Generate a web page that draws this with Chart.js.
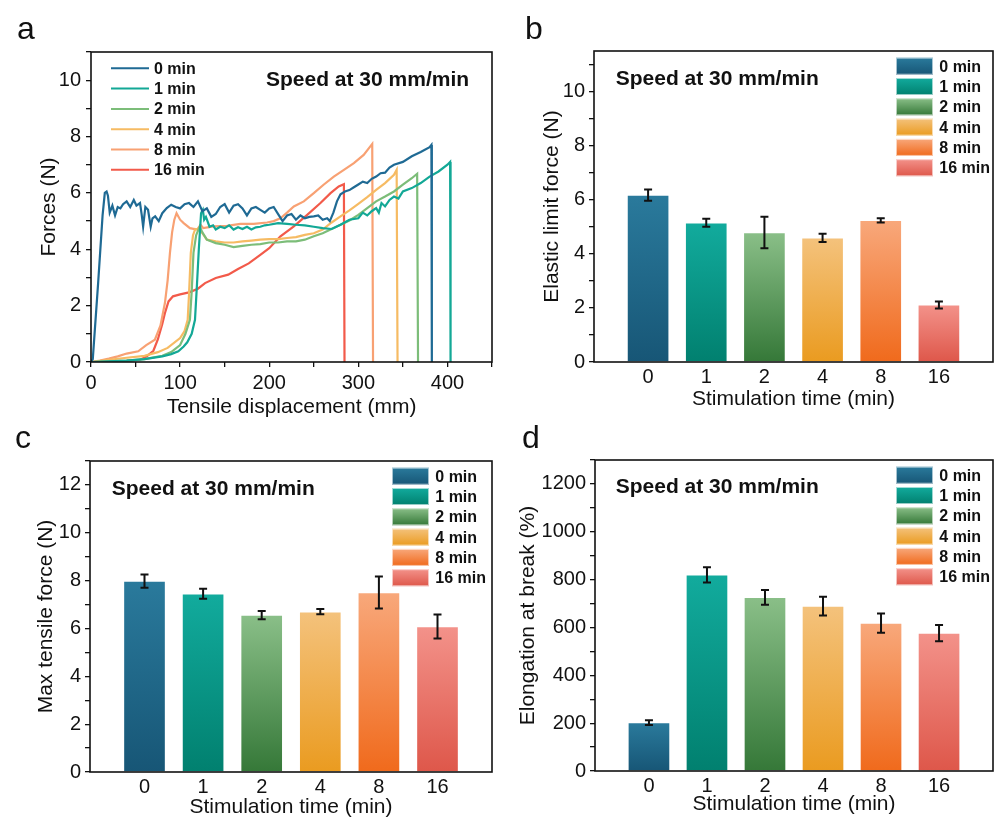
<!DOCTYPE html>
<html>
<head>
<meta charset="utf-8">
<script src="https://cdn.jsdelivr.net/npm/chart.js@4.4.0/dist/chart.umd.min.js"></script>
<style>
  body { margin: 0; background: #fff; width: 1002px; height: 818px; overflow: hidden; position: relative; }
  canvas { position: absolute; }
</style>
</head>
<body>
<canvas id="pa" width="502" height="420" style="left:0;top:0"></canvas>
<canvas id="pb" width="500" height="420" style="left:502px;top:0"></canvas>
<canvas id="pc" width="502" height="410" style="left:0;top:420px"></canvas>
<canvas id="pd" width="500" height="410" style="left:502px;top:420px"></canvas>
<script>
// stimulation times and legend names
const times = ['0', '1', '2', '4', '8', '16'];
const legendNames = ['0 min', '1 min', '2 min', '4 min', '8 min', '16 min'];

// bar values (b, c, d) and their error bars
const elasticForce = [6.17, 5.15, 4.79, 4.59, 5.24, 2.11];
const elasticErr = [0.21, 0.15, 0.58, 0.15, 0.08, 0.13];
const maxForce = [7.98, 7.45, 6.56, 6.70, 7.50, 6.08];
const maxForceErr = [0.28, 0.21, 0.17, 0.11, 0.67, 0.50];
const elongation = [202, 820, 726, 689, 618, 576];
const elongationErr = [10, 32, 31, 39, 40, 34];

// force-displacement curves (a): [displacement mm, force N]
const curve0 = [[0,0],[2,0.1],[8,2.8],[13,5.2],[15.5,6.0],[17.5,6.05],[19,5.9],[21,5.3],[24,5.55],[27,5.2],
  [30,5.5],[33,5.45],[36,5.6],[40,5.7],[44,5.5],[48,5.75],[51,5.55],[55,5.64],[57,5.2],[58.5,4.8],
  [61,5.5],[64,5.4],[67,4.8],[69,5.1],[72,5.17],[76,5.0],[80,5.28],[85,5.46],[90,5.58],[95,5.5],
  [100,5.45],[105,5.6],[110,5.64],[115,5.5],[120,5.7],[125,5.35],[130,5.45],[135,5.15],[140,5.25],[145,5.5],
  [150,5.6],[155,5.3],[160,5.55],[165,5.6],[170,5.45],[175,5.2],[180,5.45],[185,5.5],[190,5.4],[195,5.3],
  [200,5.45],[205,5.5],[210,5.25],[215,5.0],[220,5.2],[225,5.25],[230,5.05],[235,5.2],[240,5.1],[245,5.15],
  [250,5.17],[255,5.2],[260,5.05],[265,5.1],[268,5.0],[272,5.3],[276,5.7],[280,5.95],[285,6.05],[290,6.1],
  [295,6.2],[300,6.3],[305,6.4],[310,6.35],[315,6.5],[320,6.58],[325,6.7],[330,6.72],[335,6.9],[340,7.0],
  [350,7.1],[360,7.3],[370,7.45],[380,7.62],[382,7.7],[382.5,0]];
const curve1 = [[0,0],[20,0.02],[40,0.05],[60,0.1],[80,0.2],[90,0.28],[98,0.38],[104,0.55],[108,0.7],[113,1.0],
  [116.7,1.5],[119,2.8],[121,4.0],[123.5,5.28],[125.5,5.4],[127,5.05],[129,5.15],[133,4.8],[137,4.85],[140,4.7],
  [145,4.8],[150,4.75],[155,4.85],[160,4.7],[165,4.78],[170,4.72],[175,4.8],[180,4.7],[185,4.78],[190,4.8],
  [195,4.85],[200,4.87],[210,4.93],[220,4.9],[230,4.87],[240,4.85],[250,4.8],[260,4.75],[270,4.72],[280,4.87],
  [290,5.05],[300,5.1],[305,5.3],[310,5.2],[315,5.35],[320,5.46],[323,5.3],[326,5.64],[330,5.52],[335,5.75],
  [340,5.87],[345,5.8],[350,6.05],[360,6.17],[370,6.35],[380,6.58],[390,6.76],[400,7.0],[403,7.1],[403.5,0]];
const curve2 = [[0,0],[20,0.02],[40,0.05],[60,0.1],[80,0.22],[90,0.35],[100,0.6],[106,1.0],[111,1.5],[113,2.5],
  [115,3.87],[118,4.5],[122,4.81],[125,4.6],[130,4.34],[140,4.22],[150,4.16],[160,4.08],[170,4.12],[180,4.16],
  [190,4.18],[200,4.24],[210,4.24],[220,4.28],[230,4.28],[240,4.34],[250,4.46],[260,4.57],[270,4.72],[280,4.87],
  [290,5.02],[300,5.22],[310,5.46],[320,5.7],[330,5.87],[340,6.05],[350,6.29],[360,6.52],[366,6.68],[367,0]];
const curve4 = [[0,0],[20,0.08],[40,0.15],[60,0.22],[75,0.35],[86,0.5],[100,0.85],[105,1.1],[108.5,1.5],[110,2.4],
  [112,3.87],[114.5,4.5],[117,4.72],[120,4.7],[125,4.57],[130,4.34],[140,4.28],[150,4.24],[160,4.24],[170,4.28],
  [180,4.31],[190,4.34],[200,4.36],[210,4.36],[220,4.4],[230,4.43],[240,4.51],[250,4.57],[260,4.7],[270,4.95],
  [280,5.17],[290,5.38],[300,5.61],[310,5.85],[320,6.11],[330,6.35],[340,6.64],[343,6.82],[344,0]];
const curve8 = [[0,0],[10,0.05],[20,0.12],[30,0.2],[40,0.3],[53,0.38],[62,0.6],[71.7,0.79],[78,1.3],[83,2.1],
  [86,2.9],[88.6,3.87],[91,4.6],[93.5,5.05],[96,5.28],[100,5.05],[104,4.93],[111,4.75],[119,4.7],[123,4.87],
  [126,4.75],[137.6,4.81],[152.6,4.83],[167.6,4.9],[182.6,4.9],[197.6,4.95],[205,5.0],[212.6,5.1],[220,5.3],[227.6,5.52],
  [238.8,5.7],[250,5.99],[261,6.29],[272.5,6.58],[283.8,6.82],[295,7.06],[306,7.35],[315.6,7.74],[316.5,0]];
const curve16 = [[0,0],[20,0.02],[40,0.04],[55,0.08],[62.6,0.2],[70,0.4],[75,0.8],[80,1.35],[83,1.74],[87,2.15],
  [92,2.33],[100,2.4],[110,2.47],[120,2.6],[128,2.8],[140,2.98],[154,3.1],[165,3.3],[177,3.5],[190,3.8],
  [200,4.04],[212.6,4.46],[227.6,4.81],[242.6,5.22],[257.5,5.64],[268.8,5.99],[278,6.23],[283.8,6.31],[284.5,0]];
const curves = [curve0, curve1, curve2, curve4, curve8, curve16];

const lineColors = ['#1f6a94', '#13a896', '#7cbd79', '#f6bb63', '#f8a173', '#f25a4a'];
const barTops = ['#2a7a9c', '#12ab9d', '#8abf88', '#f4c27c', '#f8a87b', '#f3928a'];
const barBottoms = ['#175676', '#01806f', '#357838', '#ea9b20', '#f06a1c', '#de574a'];

const FONT = 'Arial, "Liberation Sans", sans-serif';
Chart.defaults.font.family = FONT;
Chart.defaults.color = '#111';
Chart.defaults.animation = false;

function yTicks(max, step) {
  return s => {
    s.ticks = [];
    for (let v = 0; v <= max + 1e-9; v += step) s.ticks.push({ value: v });
  };
}

function barFill(ctx) {
  const chart = ctx.chart;
  const i = ctx.dataIndex;
  if (!chart.chartArea || ctx.type !== 'data') return barBottoms[i];
  const y = chart.scales.y;
  const g = chart.ctx.createLinearGradient(0, y.getPixelForValue(ctx.parsed.y), 0, y.getPixelForValue(0));
  g.addColorStop(0, barTops[i]);
  g.addColorStop(1, barBottoms[i]);
  return g;
}

// frame, panel letter, speed note, legend and error bars
function decor(cfg) {
  return {
    id: 'decor',
    afterDatasetsDraw(chart) {
      const { ctx, chartArea: a } = chart;
      ctx.save();
      if (cfg.err) {
        const y = chart.scales.y;
        ctx.strokeStyle = '#111';
        ctx.lineWidth = 2;
        chart.getDatasetMeta(0).data.forEach((bar, i) => {
          const hi = y.getPixelForValue(cfg.vals[i] + cfg.err[i]);
          const lo = y.getPixelForValue(cfg.vals[i] - cfg.err[i]);
          ctx.beginPath();
          ctx.moveTo(bar.x, hi); ctx.lineTo(bar.x, lo);
          ctx.moveTo(bar.x - 4, hi); ctx.lineTo(bar.x + 4, hi);
          ctx.moveTo(bar.x - 4, lo); ctx.lineTo(bar.x + 4, lo);
          ctx.stroke();
        });
      }
      ctx.strokeStyle = '#111';
      ctx.lineWidth = 1.6;
      ctx.strokeRect(a.left, a.top, a.right - a.left, a.bottom - a.top);

      ctx.fillStyle = '#111';
      ctx.textAlign = 'left';
      ctx.textBaseline = 'alphabetic';
      ctx.font = '32px ' + FONT;
      ctx.fillText(cfg.letter, cfg.letterX, cfg.letterY);

      ctx.textBaseline = 'middle';
      ctx.font = 'bold 21px ' + FONT;
      ctx.fillText('Speed at 30 mm/min', cfg.speedX, cfg.speedY);

      ctx.font = 'bold 16px ' + FONT;
      legendNames.forEach((name, i) => {
        const top = cfg.legY + i * 20.3;
        if (cfg.lines) {
          ctx.strokeStyle = lineColors[i];
          ctx.lineWidth = 2;
          ctx.beginPath();
          ctx.moveTo(cfg.legX, top); ctx.lineTo(cfg.legX + 38, top);
          ctx.stroke();
          ctx.fillStyle = '#111';
          ctx.fillText(name, cfg.legX + 43, top + 1);
        } else {
          const g = ctx.createLinearGradient(0, top, 0, top + 17);
          g.addColorStop(0, barTops[i]);
          g.addColorStop(1, barBottoms[i]);
          ctx.fillStyle = g;
          ctx.fillRect(cfg.legX, top, 37, 17);
          ctx.strokeStyle = 'rgba(255,255,255,0.6)';
          ctx.lineWidth = 1;
          ctx.strokeRect(cfg.legX + 0.5, top + 0.5, 36, 16);
          ctx.fillStyle = '#111';
          ctx.fillText(name, cfg.legX + 43.3, top + 9.5);
        }
      });
      ctx.restore();
    }
  };
}

const tickGrid = { drawOnChartArea: false, drawTicks: true, tickLength: 5, color: '#111', lineWidth: 1.3 };

// panel a
new Chart(document.getElementById('pa'), {
  type: 'line',
  data: {
    datasets: curves.map((c, i) => ({
      label: legendNames[i],
      data: c.map(p => ({ x: p[0], y: p[1] })),
      borderColor: lineColors[i],
      borderWidth: 2.2,
      pointRadius: 0,
      tension: 0
    }))
  },
  options: {
    responsive: false,
    layout: { padding: { left: 37, top: 52, right: 10, bottom: 0 } },
    plugins: { legend: { display: false }, tooltip: { enabled: false } },
    scales: {
      x: {
        type: 'linear', min: 0, max: 450,
        afterBuildTicks: s => { s.ticks = []; for (let v = 0; v <= 450; v += 50) s.ticks.push({ value: v }); },
        afterFit: s => { s.height = 58; },
        grid: tickGrid, border: { display: false },
        ticks: { autoSkip: false, maxRotation: 0, padding: 4, font: { size: 20 }, callback: v => v % 100 === 0 ? v : '' },
        title: { display: true, text: 'Tensile displacement (mm)', font: { size: 21 }, padding: { top: 0, bottom: 0 } }
      },
      y: {
        min: 0, max: 11,
        afterBuildTicks: yTicks(11, 1),
        afterFit: s => { s.width = 54; },
        grid: tickGrid, border: { display: false },
        ticks: { autoSkip: false, padding: 5, font: { size: 20 }, callback: v => v % 2 === 0 ? v : '' },
        title: { display: true, text: 'Forces (N)', font: { size: 21 }, padding: { top: 0, bottom: 0 } }
      }
    }
  },
  plugins: [decor({ letter: 'a', letterX: 17, letterY: 39, speedX: 266, speedY: 80, lines: true, legX: 111, legY: 68.3 })]
});

function barPanel(id, vals, errs, yMax, yStep, labelStep, yTitle, geo) {
  new Chart(document.getElementById(id), {
    type: 'bar',
    data: {
      datasets: [{
        data: vals.map((v, i) => ({ x: i, y: v })),
        backgroundColor: barFill,
        borderColor: 'rgba(255,255,255,0.55)',
        borderWidth: 1,
        barThickness: 42
      }]
    },
    options: {
      responsive: false,
      layout: { padding: geo.padding },
      plugins: { legend: { display: false }, tooltip: { enabled: false } },
      scales: {
        x: {
          type: 'linear', min: -0.93, max: 5.93, offset: false,
          afterBuildTicks: s => { s.ticks = times.map((t, i) => ({ value: i })); },
          afterFit: s => { s.height = geo.xHeight; },
          grid: { display: false, drawTicks: false }, border: { display: false },
          ticks: { autoSkip: false, maxRotation: 0, padding: geo.xPad, font: { size: 20 }, callback: v => times[v] },
          title: { display: true, text: 'Stimulation time (min)', font: { size: 21 }, padding: { top: 0, bottom: 0 } }
        },
        y: {
          min: 0, max: yMax,
          afterBuildTicks: yTicks(yMax, yStep),
          afterFit: s => { s.width = geo.yWidth; },
          grid: tickGrid, border: { display: false },
          ticks: { autoSkip: false, padding: 4, font: { size: 20 }, callback: v => Math.round(v) % labelStep === 0 ? v : '' },
          title: { display: true, text: yTitle, font: { size: 21 }, padding: { top: 0, bottom: 0 } }
        }
      }
    },
    plugins: [decor(Object.assign({ vals: vals, err: errs, lines: false }, geo.decor))]
  });
}

barPanel('pb', elasticForce, elasticErr, 11.5, 1, 2, 'Elastic limit force (N)', {
  padding: { left: 38, top: 51, right: 9, bottom: 8 }, yWidth: 54, xHeight: 50, xPad: 3,
  decor: { letter: 'b', letterX: 23, letterY: 39, speedX: 113.7, speedY: 79, legX: 394, legY: 57.7 }
});
barPanel('pc', maxForce, maxForceErr, 13, 1, 2, 'Max tensile force (N)', {
  padding: { left: 34, top: 41, right: 10, bottom: 10 }, yWidth: 56, xHeight: 48, xPad: 3,
  decor: { letter: 'c', letterX: 15, letterY: 28, speedX: 111.7, speedY: 69, legX: 392, legY: 47.7 }
});
barPanel('pd', elongation, elongationErr, 1300, 100, 200, 'Elongation at break (%)', {
  padding: { left: 14, top: 40, right: 9, bottom: 13 }, yWidth: 79, xHeight: 46, xPad: 3,
  decor: { letter: 'd', letterX: 20, letterY: 28, speedX: 113.7, speedY: 67.7, legX: 394, legY: 46.7 }
});
</script>
</body>
</html>
